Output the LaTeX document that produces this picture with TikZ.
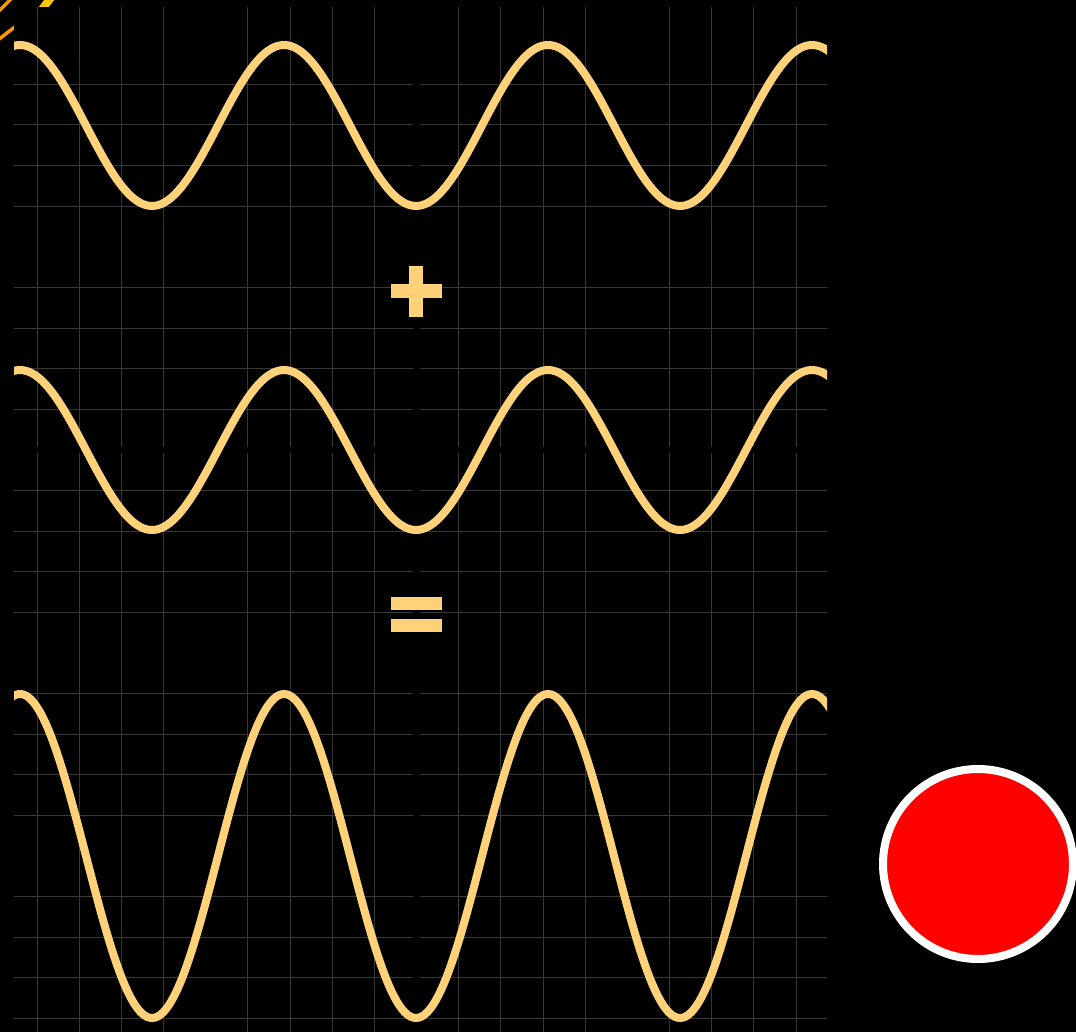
\documentclass[tikz,border=0pt]{standalone}
\definecolor{wave}{RGB}{255,210,122}
\definecolor{gridgray}{RGB}{55,55,55}
\definecolor{stripeorange}{RGB}{255,150,0}
\definecolor{stripeyellow}{RGB}{255,200,0}
\tikzset{
  gridline/.style={draw=gridgray, line width=1pt},
  waveline/.style={draw=wave, line width=8pt, line join=round},
  opbar/.style={fill=wave},
  stripe/.style={line width=3.5pt},
}
\begin{document}
\begin{tikzpicture}[x=1pt,y=-1pt]
\useasboundingbox (0,0) rectangle (1076,1032);
\fill[black] (0,0) rectangle (1076,1032);
% hazard stripes in the top-left corner
\draw[stripe, stripeorange] (-2,12) -- (12,-2);
\draw[stripe, stripeorange] (-2,40) -- (16,26);
\fill[stripeyellow] (38,8) -- (45,-1) -- (55,-1) -- (48,8) -- cycle;
% panel
\fill[black] (14,7) rectangle (827,1032);
% vertical grid lines
\foreach \k in {0,1,2,3,5,6,7,8,10,11,12,13,15,16,17,18}{
  \pgfmathsetmacro\gx{37+42.17*\k}
  \draw[gridline] (\gx,7) -- (\gx,447) (\gx,453) -- (\gx,1032);
}
% horizontal grid lines
\foreach \j in {1,2,3,4,6,7,8,9,11,12,13,14,16,17,18,19,21,22,23,24}{
  \pgfmathsetmacro\gy{43.7+40.62*\j}
  \draw[gridline] (14,\gy) -- (413,\gy) (420,\gy) -- (827,\gy);
}
% waves
\begin{scope}
\clip (14,0) rectangle (827,1032);
\draw[waveline] plot[domain=10:831, samples=240, variable=\x] (\x, {125.5-80.5*cos(1.363636*(\x-20))});
\draw[waveline] plot[domain=10:831, samples=240, variable=\x] (\x, {450-80*cos(1.363636*(\x-20))});
\draw[waveline] plot[domain=10:831, samples=300, variable=\x] (\x, {856-162*cos(1.363636*(\x-20))});
\end{scope}
% plus sign
\fill[opbar] (390.7,284.3) rectangle (441.7,297.7);
\fill[opbar] (409.3,265.7) rectangle (422.7,316.7);
% equals sign
\fill[opbar] (390.7,597.3) rectangle (442.3,610);
\fill[opbar] (390.7,619.3) rectangle (442.3,631.7);
% record button
\node[circle, minimum size=190pt, inner sep=0pt, fill=red, draw=white, line width=8pt] (rec) at (978,864) {};
\end{tikzpicture}
\end{document}
